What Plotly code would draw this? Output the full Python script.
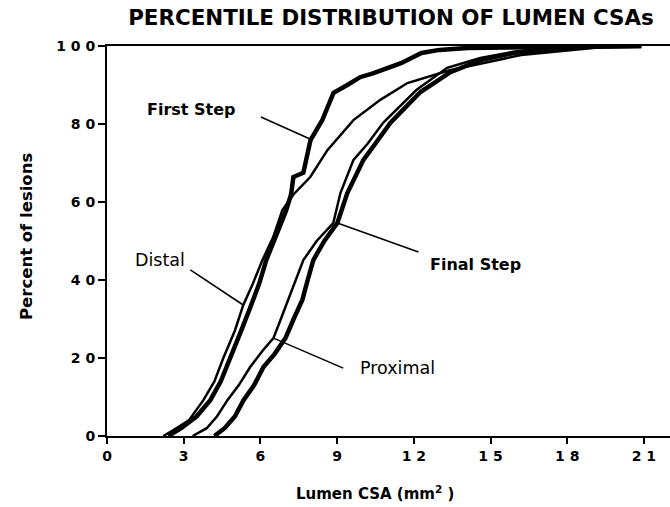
import plotly.graph_objects as go

# ---- data ----
first_step_x = [2.4, 2.9, 3.5, 4.04, 4.45, 4.83, 5.25, 5.64, 5.95, 6.23, 6.6, 7.01, 7.2, 7.29, 7.68, 7.96, 8.42, 8.86, 9.4, 9.9, 10.4, 11.5, 12.3, 13.0, 14.1, 17.7, 20.9]
first_step_y = [0, 2, 5, 9.2, 14, 20, 27, 33.6, 39, 45.1, 51, 57.9, 62, 66.4, 67.5, 75.9, 81, 88, 90, 92, 93, 95.6, 98.2, 99, 99.5, 99.7, 100]

distal_x = [2.2, 2.6, 3.2, 3.77, 4.2, 4.55, 5.0, 5.33, 5.7, 6.08, 6.5, 6.86, 7.3, 7.95, 8.62, 9.64, 10.69, 11.75, 13.4, 16.2, 19.3]
distal_y = [0, 1.5, 4, 9.2, 14, 20, 27, 33.6, 39, 45.1, 51, 57.9, 62, 66.4, 73.3, 81.0, 86.2, 90.5, 93.8, 97.7, 99.7]

proximal_x = [3.35, 3.9, 4.3, 4.71, 5.15, 5.6, 6.1, 6.51, 6.8, 7.09, 7.4, 7.68, 8.2, 8.85, 9.13, 9.64, 10.2, 10.8, 12.1, 13.3, 14.6, 15.9, 17.9]
proximal_y = [0, 2, 5, 9.2, 13, 17.7, 22, 25.1, 30, 34.9, 40, 45.1, 50, 54.6, 62.3, 70.8, 75, 80.3, 88.7, 94.4, 96.9, 98.5, 100]

final_step_x = [4.2, 4.6, 5.0, 5.34, 5.75, 6.12, 6.55, 6.98, 7.3, 7.64, 7.85, 8.07, 8.5, 9.01, 9.4, 10.03, 10.5, 11.08, 12.26, 13.43, 14.6, 15.9, 17.9, 19.0, 20.9]
final_step_y = [0, 2, 5, 9.2, 13, 17.7, 21, 25.1, 30, 34.9, 40, 45.1, 50, 54.6, 62.3, 70.8, 75, 80.3, 88.2, 93.3, 96.4, 98.2, 99.5, 99.8, 100]

x_tick_vals = [0, 3, 6, 9, 12, 15, 18, 21]
x_tick_text = ["0", "3", "6", "9", "1 2", "1 5", "1 8", "2 1"]
y_tick_vals = [0, 20, 40, 60, 80, 100]
y_tick_text = ["0", "2 0", "4 0", "6 0", "8 0", "1 0 0"]

# (text, bold, text x, text y, leader start x, y, leader end x, y)
labels = [
    ("First Step", True, 1.50, 83.8, 6.02, 81.8, 8.03, 75.9),
    ("Distal", False, 1.03, 45.1, 3.26, 42.6, 5.33, 33.6),
    ("Final Step", True, 12.57, 44.1, 12.18, 47.2, 9.01, 54.6),
    ("Proximal", False, 9.83, 17.4, 9.24, 17.4, 6.51, 25.1),
]

FONT = "DejaVu Sans"
fig = go.Figure()
for xs, ys, w in [(distal_x, distal_y, 2.5), (proximal_x, proximal_y, 2.5),
                  (first_step_x, first_step_y, 4.5), (final_step_x, final_step_y, 4.5)]:
    fig.add_trace(go.Scatter(x=xs, y=ys, mode="lines",
                             line=dict(color="black", width=w),
                             showlegend=False, hoverinfo="skip"))

for text, bold, tx, ty, x0, y0, x1, y1 in labels:
    fig.add_shape(type="line", x0=x0, y0=y0, x1=x1, y1=y1, xref="x", yref="y",
                  line=dict(color="black", width=1.6))
    fig.add_annotation(x=tx, y=ty, xref="x", yref="y", text=f"<b>{text}</b>" if bold else text,
                       showarrow=False, xanchor="left", yanchor="middle",
                       font=dict(family=FONT, size=16 if bold else 17.5, color="black"))

fig.add_annotation(x=-0.1439, y=0.5128, xref="paper", yref="paper", text="<b>Percent of lesions</b>",
                   textangle=-90, showarrow=False, xanchor="center", yanchor="middle",
                   font=dict(family=FONT, size=16.5, color="black"))
fig.add_annotation(x=0.476, y=-0.146, xref="paper", yref="paper",
                   text="<b>Lumen CSA (mm<sup>2</sup> )</b>",
                   showarrow=False, xanchor="center", yanchor="middle",
                   font=dict(family=FONT, size=15, color="black"))

fig.update_layout(
    width=670, height=507,
    margin=dict(l=107, r=0, t=46, b=71),
    paper_bgcolor="white", plot_bgcolor="white",
    title=dict(text="<b>PERCENTILE DISTRIBUTION OF LUMEN CSAs</b>",
               x=0.5836, y=0.9645, xref="container", yref="container",
               xanchor="center", yanchor="middle",
               font=dict(family=FONT, size=21.4, color="black")),
)
fig.update_xaxes(range=[0, 22.02], tickvals=x_tick_vals, ticktext=x_tick_text,
                 showgrid=False, zeroline=False, showline=True, linecolor="black", linewidth=2,
                 mirror=True, ticks="outside", ticklen=6, tickwidth=1.5, tickcolor="black",
                 tickfont=dict(family=FONT, size=14, color="black", weight="bold"))
fig.update_yaxes(range=[0, 100], tickvals=y_tick_vals, ticktext=y_tick_text,
                 showgrid=False, zeroline=False, showline=True, linecolor="black", linewidth=2,
                 ticks="outside", ticklen=7, tickwidth=1.5, tickcolor="black",
                 tickfont=dict(family=FONT, size=14, color="black", weight="bold"))

# the page has no body margin, so the figure fills the 670x507 window exactly
fig.write_html("out.html", config={"displayModeBar": False},
               post_script="document.body.style.margin='0';")
